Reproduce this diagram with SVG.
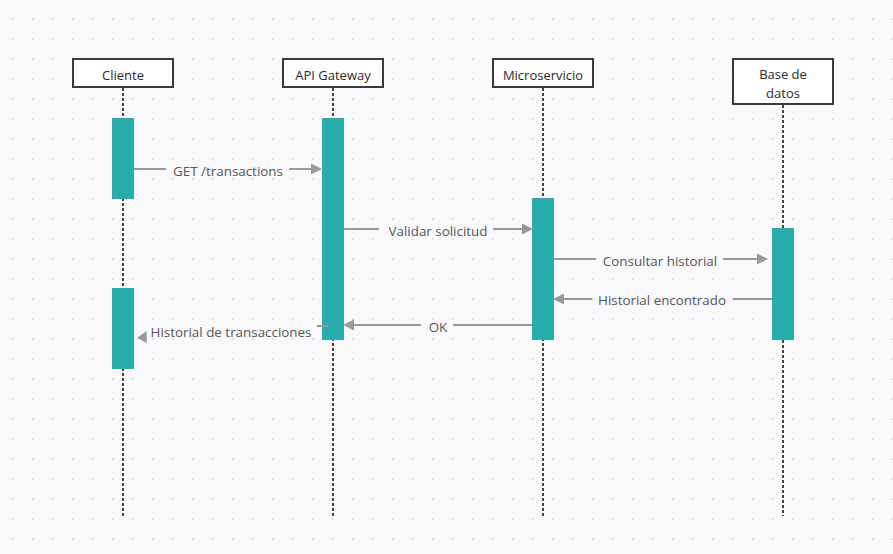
<svg xmlns="http://www.w3.org/2000/svg" width="893" height="554" viewBox="0 0 893 554">
<defs>
<pattern id="dots" x="2.7" y="9" width="20" height="20" patternUnits="userSpaceOnUse">
<circle cx="10" cy="10" r="1" fill="#d4d4da"/>
</pattern>
<style>
.box{fill:#ffffff;stroke:#3a3a3a;stroke-width:2}
.hdr{font-family:"Open Sans","Liberation Sans",sans-serif;font-size:13px;fill:#2a2a2a;text-anchor:middle}
.life{stroke:#444;stroke-width:2;stroke-dasharray:3,2;fill:none}
.act{fill:#27aeab}
.msg{stroke:#999;stroke-width:2;fill:none}
.head{fill:#999}
.lbl{font-family:"Open Sans","Liberation Sans",sans-serif;font-size:13.4px;fill:#555;text-anchor:middle}
</style>
</defs>
<rect width="893" height="554" fill="#f9f9fb"/>
<rect width="893" height="554" fill="url(#dots)"/>

<g id="cliente">
<line class="life" x1="123" y1="88" x2="123" y2="516"/>
<rect class="box" x="73" y="59" width="100" height="28"/>
<text class="hdr" x="123" y="80">Cliente</text>
<rect class="act" x="112" y="118" width="22" height="81"/>
<rect class="act" x="112" y="288" width="22" height="81"/>
</g>
<g id="api-gateway">
<line class="life" x1="333" y1="88" x2="333" y2="516"/>
<rect class="box" x="283" y="59" width="100" height="28"/>
<text class="hdr" x="333" y="80">API Gateway</text>
<rect class="act" x="322" y="118" width="22" height="222"/>
</g>
<g id="microservicio">
<line class="life" x1="543" y1="88" x2="543" y2="516"/>
<rect class="box" x="493" y="59" width="100" height="28"/>
<text class="hdr" x="543" y="80">Microservicio</text>
<rect class="act" x="532" y="198" width="22" height="142"/>
</g>
<g id="base-de-datos">
<line class="life" x1="783" y1="105" x2="783" y2="516"/>
<rect class="box" x="733" y="59" width="100" height="45"/>
<text class="hdr" x="783" y="79">Base de</text>
<text class="hdr" x="783" y="98">datos</text>
<rect class="act" x="772" y="228" width="22" height="112"/>
</g>

<g id="connectors">
<!-- GET /transactions -->
<line class="msg" x1="134" y1="169" x2="166" y2="169"/>
<line class="msg" x1="289" y1="169" x2="313" y2="169"/>
<polygon class="head" points="322,169 311,163.5 311,174.5"/>
<text class="lbl" x="228" y="175.5">GET /transactions</text>
<!-- Validar solicitud -->
<line class="msg" x1="344" y1="229" x2="379" y2="229"/>
<line class="msg" x1="493" y1="229" x2="523" y2="229"/>
<polygon class="head" points="533,229 522,223.5 522,234.5"/>
<text class="lbl" x="438" y="235.5">Validar solicitud</text>
<!-- Consultar historial -->
<line class="msg" x1="554" y1="259" x2="596" y2="259"/>
<line class="msg" x1="723" y1="259" x2="758" y2="259"/>
<polygon class="head" points="768,259 757,253.5 757,264.5"/>
<text class="lbl" x="660" y="265.5">Consultar historial</text>
<!-- Historial encontrado -->
<line class="msg" x1="772" y1="299" x2="733" y2="299"/>
<line class="msg" x1="592" y1="299" x2="563" y2="299"/>
<polygon class="head" points="553,299 564,293.5 564,304.5"/>
<text class="lbl" x="662" y="305">Historial encontrado</text>
<!-- OK -->
<line class="msg" x1="532" y1="325" x2="453" y2="325"/>
<line class="msg" x1="421" y1="325" x2="352" y2="325"/>
<polygon class="head" points="343,325 354,319.5 354,330.5"/>
<text class="lbl" x="438" y="331.5">OK</text>
<!-- Historial de transacciones -->
<line class="msg" x1="317" y1="326" x2="328" y2="326"/>
<polygon class="head" points="137,338 146.5,331 147,343"/>
<text class="lbl" x="231" y="337">Historial de transacciones</text>
</g>
</svg>
